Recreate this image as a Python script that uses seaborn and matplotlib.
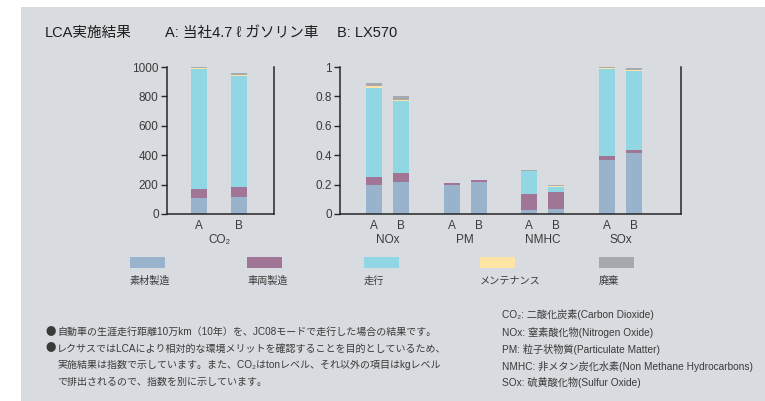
import numpy as np
import pandas as pd
import seaborn as sns
import matplotlib
matplotlib.use('Agg')
from matplotlib import pyplot as plt
from matplotlib.patches import Rectangle
from matplotlib.transforms import blended_transform_factory

# DATA
stages = ['素材製造', '車両製造', '走行', 'メンテナンス', '廃棄']
stage_colors = ['#98b3cb', '#a07596', '#91d7e3', '#fee4a5', '#a8a9ac']
cars = ['A', 'B']

# CO2 index (A, B)
co2_material = [110, 115]
co2_vehicle = [60, 68]
co2_driving = [814, 754]
co2_maint = [7, 9]
co2_disposal = [9, 11]

# other emissions index, bars: NOx A/B, PM A/B, NMHC A/B, SOx A/B
gas_groups = ['NOx', 'PM', 'NMHC', 'SOx']
gas_material = [0.20, 0.22, 0.20, 0.22, 0.027, 0.034, 0.367, 0.416]
gas_vehicle = [0.05, 0.06, 0.013, 0.013, 0.111, 0.118, 0.029, 0.018]
gas_driving = [0.61, 0.49, 0.0, 0.0, 0.154, 0.034, 0.588, 0.541]
gas_maint = [0.014, 0.007, 0.0, 0.0, 0.0, 0.002, 0.010, 0.007]
gas_disposal = [0.02, 0.024, 0.0, 0.0, 0.007, 0.009, 0.004, 0.013]

co2_ticks = [0, 200, 400, 600, 800, 1000]
gas_ticks = [0, 0.2, 0.4, 0.6, 0.8, 1]
gas_tick_labels = ['0', '0.2', '0.4', '0.6', '0.8', '1']

title = 'LCA実施結果'
title_a = 'A: 当社4.7 ℓ ガソリン車'
title_b = 'B: LX570'

# (bullet?, text)
notes_left = [
    (True, '自動車の生涯走行距離10万km（10年）を、JC08モードで走行した場合の結果です。'),
    (True, 'レクサスではLCAにより相対的な環境メリットを確認することを目的としているため、'),
    (False, '実施結果は指数で示しています。また、CO₂はtonレベル、それ以外の項目はkgレベル'),
    (False, 'で排出されるので、指数を別に示しています。'),
]
notes_right = [
    'CO₂: 二酸化炭素(Carbon Dioxide)',
    'NOx: 窒素酸化物(Nitrogen Oxide)',
    'PM: 粒子状物質(Particulate Matter)',
    'NMHC: 非メタン炭化水素(Non Methane Hydrocarbons)',
    'SOx: 硫黄酸化物(Sulfur Oxide)',
]

BG = '#d8dbdf'
TXT = '#3a3a3a'
W, H = 765, 401

sns.set_style('ticks')
plt.rcParams['font.family'] = ['Liberation Sans', 'Noto Sans CJK JP', 'DejaVu Sans']


def draw_stack(ax, pos, layers, width):
    cum = np.cumsum(np.array(layers, dtype=float), axis=0)
    # draw from the top layer down so lower layers cover the rest
    for i in reversed(range(len(layers))):
        df = pd.DataFrame({'pos': pos, 'val': cum[i]})
        sns.barplot(data=df, x='pos', y='val', native_scale=True, orient='x',
                    color=stage_colors[i], width=width, saturation=1,
                    linewidth=0, errorbar=None, ax=ax)


def style_axis(ax):
    ax.set_facecolor('none')
    ax.spines['top'].set_visible(False)
    for s in ['left', 'bottom', 'right']:
        ax.spines[s].set_color('#262626')
        ax.spines[s].set_linewidth(1.1)
    ax.tick_params(axis='y', length=4, width=1, color='#262626',
                   labelsize=8.5, labelcolor=TXT, pad=2)
    ax.tick_params(axis='x', length=0, labelsize=8.5, labelcolor=TXT, pad=4)
    ax.set_xlabel('')
    ax.set_ylabel('')


fig = plt.figure(figsize=(W / 100, H / 100), dpi=100)
fig.patch.set_facecolor('white')
fig.add_artist(Rectangle((21 / W, 0), 1, (H - 7) / H, transform=fig.transFigure,
                         facecolor=BG, edgecolor='none', zorder=-10))

# CO2 panel
ax1 = fig.add_axes([167 / W, (H - 214) / H, (274 - 167) / W, (214 - 67) / H])
co2_pos = [0, 1]
draw_stack(ax1, co2_pos, [co2_material, co2_vehicle, co2_driving, co2_maint, co2_disposal], 0.4)
ax1.set_xlim(-0.8, 1.875)
ax1.set_ylim(0, 1000)
ax1.set_yticks(co2_ticks)
ax1.set_xticks(co2_pos)
ax1.set_xticklabels(cars)
style_axis(ax1)
tr1 = blended_transform_factory(ax1.transData, ax1.transAxes)
ax1.text(np.mean(co2_pos), -0.18, 'CO₂', transform=tr1, ha='center', va='center',
         fontsize=8.5, color=TXT)

# other gases panel
ax2 = fig.add_axes([340 / W, (H - 214) / H, (681 - 340) / W, (214 - 67) / H])
group_gap = 2.88
gas_pos = [g * group_gap + k for g in range(len(gas_groups)) for k in range(2)]
draw_stack(ax2, gas_pos, [gas_material, gas_vehicle, gas_driving, gas_maint, gas_disposal], 0.6)
ax2.set_xlim(-1.26, gas_pos[-1] + 1.74)
ax2.set_ylim(0, 1)
ax2.set_yticks(gas_ticks)
ax2.set_yticklabels(gas_tick_labels)
ax2.set_xticks(gas_pos)
ax2.set_xticklabels(cars * len(gas_groups))
style_axis(ax2)
tr2 = blended_transform_factory(ax2.transData, ax2.transAxes)
for g, name in enumerate(gas_groups):
    ax2.text(g * group_gap + 0.5, -0.18, name, transform=tr2, ha='center', va='center',
             fontsize=8.5, color=TXT)

# header
for x, s in [(45, title), (165, title_a), (337, title_b)]:
    fig.text(x / W, 1 - 33 / H, s, fontsize=10.5, color='#1e1e1e', va='center')

# legend
leg_x = [130, 247, 364, 480, 599]
for x, lab, col in zip(leg_x, stages, stage_colors):
    fig.add_artist(Rectangle((x / W, (H - 268) / H), 35 / W, 11 / H,
                             transform=fig.transFigure, facecolor=col, edgecolor='none'))
    fig.text(x / W, 1 - 281 / H, lab, fontsize=7.3, color=TXT, va='center')

# notes
for i, (bullet, line) in enumerate(notes_left):
    y = 1 - (332 + i * 16.5) / H
    if bullet:
        fig.text(46 / W, y, '●', fontsize=7.5, color=TXT, va='center',
                 family=['Noto Sans CJK JP', 'DejaVu Sans'])
    fig.text(57 / W, y, line, fontsize=7.2, color=TXT, va='center')
for i, line in enumerate(notes_right):
    fig.text(502 / W, 1 - (315 + i * 17) / H, line, fontsize=7.3, color=TXT, va='center')

fig.savefig('out.png', dpi=100)
